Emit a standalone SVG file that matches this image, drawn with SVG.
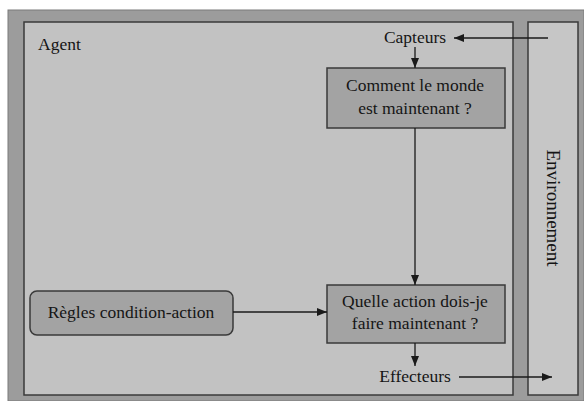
<svg xmlns="http://www.w3.org/2000/svg" width="584" height="401" viewBox="0 0 584 401">
  <style>
    text { font-family: 'Liberation Serif', Tinos, 'Times New Roman', 'DejaVu Serif', serif; font-size: 17.5px; fill: #151515; }
    .mid { text-anchor: middle; }
    .box { fill: #a3a3a3; stroke: #3a3a3a; stroke-width: 1.5; }
    .wire { stroke: #1a1a1a; stroke-width: 1.3; fill: none; }
  </style>
  <defs>
    <marker id="arrow" viewBox="0 0 10 10" refX="10" refY="5" markerWidth="10" markerHeight="10" markerUnits="userSpaceOnUse" orient="auto">
      <path d="M0,1 L10,5 L0,9 Z" fill="#1a1a1a"/>
    </marker>
  </defs>

  <rect width="584" height="401" fill="#ffffff"/>
  <!-- outer frame -->
  <rect id="frame" x="8" y="10" width="576" height="391" fill="#9c9c9c" stroke="#7a7a7a" stroke-width="1"/>

  <!-- agent area -->
  <g id="agent">
    <rect x="24" y="22" width="489" height="373" fill="#c2c2c2" stroke="#3a3a3a" stroke-width="1.5"/>
    <text x="38" y="50">Agent</text>
  </g>

  <!-- environment strip -->
  <g id="environnement">
    <rect x="528" y="22" width="50" height="373" fill="#c6c6c6" stroke="#3a3a3a" stroke-width="1.5"/>
    <text class="mid" transform="translate(547,208) rotate(90)" style="font-size:19px">Environnement</text>
  </g>

  <g id="capteurs">
    <text class="mid" x="415" y="43">Capteurs</text>
  </g>

  <g id="etat-monde">
    <rect class="box" x="327" y="68" width="178" height="60"/>
    <text class="mid" x="415" y="91">Comment le monde</text>
    <text class="mid" x="415" y="114">est maintenant ?</text>
  </g>

  <g id="regles">
    <rect class="box" x="30" y="291" width="203" height="44" rx="7" ry="7"/>
    <text class="mid" x="131" y="318">Règles condition-action</text>
  </g>

  <g id="action">
    <rect class="box" x="327" y="285" width="178" height="58"/>
    <text class="mid" x="415" y="307">Quelle action dois-je</text>
    <text class="mid" x="415" y="329">faire maintenant ?</text>
  </g>

  <g id="effecteurs">
    <text class="mid" x="415" y="382">Effecteurs</text>
  </g>

  <!-- connectors -->
  <g id="connectors">
    <line class="wire" x1="548" y1="38" x2="454" y2="38" marker-end="url(#arrow)"/>
    <line class="wire" x1="415" y1="47" x2="415" y2="68" marker-end="url(#arrow)"/>
    <line class="wire" x1="415" y1="128" x2="415" y2="285" marker-end="url(#arrow)"/>
    <line class="wire" x1="233" y1="312" x2="327" y2="312" marker-end="url(#arrow)"/>
    <line class="wire" x1="415" y1="343" x2="415" y2="366" marker-end="url(#arrow)"/>
    <line class="wire" x1="459" y1="377" x2="552" y2="377" marker-end="url(#arrow)"/>
  </g>
</svg>
